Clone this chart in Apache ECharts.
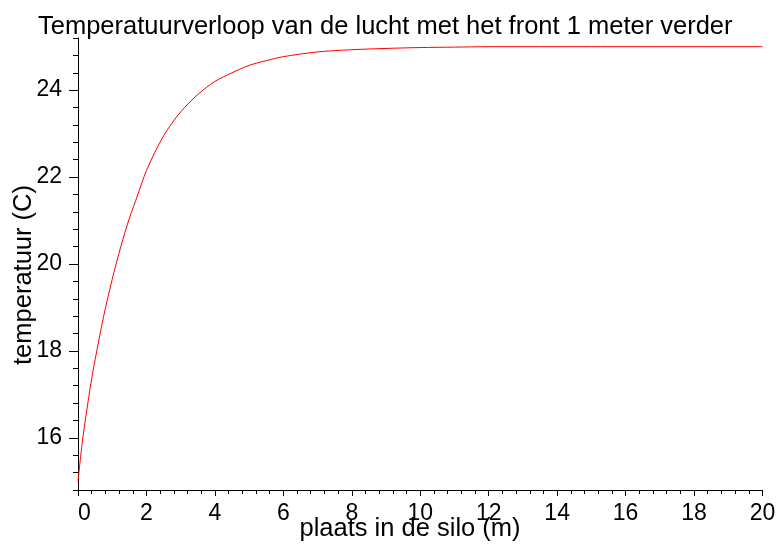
<!DOCTYPE html>
<html>
<head>
<meta charset="utf-8">
<script src="https://cdn.jsdelivr.net/npm/echarts@6/dist/echarts.min.js"></script>
<style>
html,body{margin:0;padding:0;background:#fff;}
#chart{width:779px;height:551px;}
</style>
</head>
<body>
<div id="chart"></div>
<script>
var titleText = "Temperatuurverloop van de lucht met het front 1 meter verder";
var xName = "plaats in de silo (m)";
var yName = "temperatuur (C)";
var positions = [0, 0.125, 0.25, 0.375, 0.5, 0.75, 1, 1.25, 1.5, 1.75, 2, 2.5, 3, 3.5, 4, 4.5, 5, 5.5, 6, 7, 8, 9, 10, 11, 12, 14, 16, 18, 20];
var temperatures = [15.0, 15.9, 16.6, 17.25, 17.8, 18.8, 19.65, 20.4, 21.05, 21.6, 22.15, 22.95, 23.5, 23.9, 24.2, 24.4, 24.57, 24.68, 24.77, 24.88, 24.93, 24.96, 24.98, 24.99, 25.0, 25.0, 25.0, 25.0, 25.0];
var yLabelValues = [16, 18, 20, 22, 24];

var font = "Liberation Sans, Arial, sans-serif";
var data = positions.map(function (x, i) { return [x, temperatures[i]]; });

var chart = echarts.init(document.getElementById('chart'), null, {renderer: 'canvas'});
chart.setOption({
  animation: false,
  backgroundColor: '#fff',
  title: {
    text: titleText,
    left: 33, top: 9,
    textStyle: {fontFamily: font, fontSize: 25.5, fontWeight: 'normal', color: '#000'}
  },
  graphic: [{
    type: 'text', x: 410, y: 529,
    style: {text: xName, x: 0, y: 0, align: 'center', verticalAlign: 'middle',
            font: '25.5px ' + font, fill: '#000'}
  }, {
    type: 'text', rotation: Math.PI / 2, x: 24, y: 275,
    style: {text: yName, x: 0, y: 0, align: 'center', verticalAlign: 'middle',
            font: '25.5px ' + font, fill: '#000'}
  }],
  grid: {left: 78, top: 38, right: 16.5, bottom: 61, containLabel: false},
  xAxis: {
    type: 'value', min: 0, max: 20, interval: 2,
    axisLine: {show: true, onZero: false, lineStyle: {color: '#000', width: 1}},
    axisTick: {show: true, inside: false, length: 6, lineStyle: {color: '#000'}},
    minorTick: {show: true, splitNumber: 5, length: 4, lineStyle: {color: '#000'}},
    axisLabel: {fontFamily: font, fontSize: 23, color: '#000', margin: 12, alignMinLabel: 'left'},
    splitLine: {show: false}, minorSplitLine: {show: false}
  },
  yAxis: [{
    type: 'value', min: 14.8, max: 25.2,
    axisLine: {show: true, onZero: false, lineStyle: {color: '#000', width: 1}},
    axisTick: {show: true, inside: false, length: 9, customValues: yLabelValues, lineStyle: {color: '#000'}},
    axisLabel: {fontFamily: font, fontSize: 23, color: '#000', margin: 16, customValues: yLabelValues},
    splitLine: {show: false}
  }, {
    type: 'value', min: 14.8, max: 25.2, interval: 0.4, position: 'left',
    axisLine: {show: false},
    axisTick: {show: true, inside: false, length: 5, lineStyle: {color: '#000'}},
    axisLabel: {show: false},
    splitLine: {show: false}
  }],
  series: [{
    type: 'line', data: data, xAxisIndex: 0, yAxisIndex: 0,
    showSymbol: false, smooth: 0.3,
    lineStyle: {color: '#ff0000', width: 1}
  }]
});
</script>
</body>
</html>
